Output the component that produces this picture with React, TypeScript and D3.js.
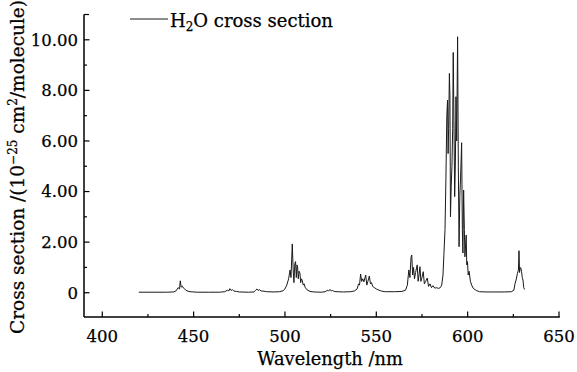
import React from "react";
import * as d3 from "d3";

const wavelength: number[] = [
  420, 425, 430, 435, 439, 440.5, 441.5, 442.3, 442.7, 443.2, 443.8, 444.5, 445.5, 446.5, 448, 452, 458, 464,
  467, 468.5, 469.3, 469.8, 470.5, 471.2, 472, 473.5, 475, 480, 483, 484, 484.7, 485.3, 486, 487, 488.5, 490,
  494, 497, 499, 500, 501, 502, 502.8, 503.3, 504.0, 504.5, 504.9, 505.4, 505.8, 506.2, 506.6, 506.9, 507.3,
  507.7, 508.2, 508.6, 509.0, 509.4, 510, 510.5, 511, 512, 513.7, 516, 520, 522, 523.3, 523.8, 524.6, 525.3,
  526, 527, 528.5, 532, 536, 538, 539.5, 540.3, 540.8, 541.4, 542, 542.6, 543.2, 544.2, 544.8, 545.4, 546.2,
  546.8, 547.4, 548, 549, 550, 551.5, 553, 555, 560, 564, 566, 567, 567.8, 568.4, 569.0, 569.4, 569.9, 570.4,
  570.9, 571.5, 572.4, 572.9, 573.4, 573.9, 574.4, 575.0, 575.7, 576.3, 577, 577.9, 578.6, 579.4, 580.2, 581,
  582, 583, 584, 585, 585.8, 586.5, 587, 587.6, 588.1, 588.6, 589.0, 589.3, 589.6, 590.0, 590.3, 590.6, 591.0,
  591.4, 591.8, 592.1, 592.5, 592.9, 593.3, 593.6, 594.0, 594.5, 594.9, 595.3, 595.7, 596.1, 596.7, 597.1,
  597.4, 597.8, 598.2, 598.5, 599.2, 599.5, 599.9, 600.3, 600.8, 601.5, 602.2, 603, 604, 605, 606.5, 610, 615,
  620, 624, 625.3, 625.9, 626.5, 627.2, 627.8, 628.1, 628.4, 628.8, 629.2, 629.5, 629.9, 630.3, 630.7, 631.1,
];

const crossSection: number[] = [
  0.02, 0.02, 0.02, 0.02, 0.03, 0.08, 0.2, 0.15, 0.47, 0.22, 0.26, 0.18, 0.12, 0.07, 0.04, 0.02, 0.02, 0.02,
  0.04, 0.1, 0.07, 0.16, 0.09, 0.12, 0.07, 0.05, 0.03, 0.02, 0.03, 0.1, 0.15, 0.09, 0.12, 0.07, 0.06, 0.04,
  0.03, 0.04, 0.08, 0.15, 0.3, 0.55, 0.9, 0.6, 1.93, 0.9, 0.4, 1.15, 1.23, 0.6, 1.1, 1.03, 0.55,
  0.85, 0.77, 0.4, 0.55, 0.5, 0.3, 0.35, 0.22, 0.12, 0.05, 0.03, 0.02, 0.04, 0.1, 0.06, 0.13, 0.07,
  0.09, 0.05, 0.04, 0.03, 0.04, 0.07, 0.15, 0.35, 0.3, 0.74, 0.45, 0.55, 0.43, 0.7, 0.3, 0.45, 0.66,
  0.35, 0.4, 0.25, 0.2, 0.15, 0.1, 0.06, 0.04, 0.04, 0.05, 0.1, 0.3, 0.9, 0.6, 1.4, 1.49, 0.7, 1.0,
  0.55, 0.8, 1.1, 0.45, 0.7, 1.03, 0.45, 0.6, 0.83, 0.35, 0.45, 0.58, 0.25, 0.35, 0.2, 0.28,
  0.18, 0.2, 0.17, 0.2, 0.3, 0.7, 1.5, 2.5, 4.5, 7.0, 7.62, 5.5, 6.5, 8.67, 7.8, 3.0, 4.2,
  5.0, 6.5, 9.5, 6.8, 3.8, 5.2, 7.75, 6.0, 10.12, 5.0, 1.82, 3.8, 4.5, 5.93, 2.5,
  1.57, 4.06, 2.5, 1.42, 2.28, 1.1, 1.23, 0.7, 0.85, 0.45, 0.3, 0.18, 0.12, 0.08, 0.04, 0.03, 0.03,
  0.03, 0.04, 0.1, 0.35, 0.5, 0.75, 0.9, 1.66, 0.8, 1.0, 0.96, 0.83, 0.6, 0.5, 0.2, 0.13,
];

const xMajorTicks = [400, 450, 500, 550, 600, 650];
const xMinorTicks = [425, 475, 525, 575, 625];
const yMajorTicks = [0, 2, 4, 6, 8, 10];
const yMinorTicks = [1, 3, 5, 7, 9];
const yTickLabels = ["0", "2.00", "4.00", "6.00", "8.00", "10.00"];

const W = 577;
const H = 372;
const left = 84;
const right = 559;
const top = 14.5;
const bottom = 317;
const font = "'DejaVu Serif', 'Liberation Serif', serif";
const heavy = { stroke: "#000", strokeWidth: 0.25 };

export default function App() {
  const x = d3.scaleLinear().domain([390, 650]).range([left, right]);
  const y = d3.scaleLinear().domain([-0.96, 11]).range([bottom, top]);
  const pts: [number, number][] = wavelength.map((w, i) => [w, crossSection[i]]);
  const line = d3
    .line<[number, number]>()
    .x((d) => x(d[0]))
    .y((d) => y(d[1]));

  return (
    <svg
      width={W}
      height={H}
      viewBox={`0 0 ${W} ${H}`}
      style={{ position: "absolute", left: 0, top: 0, background: "#fff" }}
    >
      <rect x={0} y={0} width={W} height={H} fill="#fff" />
      <path d={line(pts) || ""} fill="none" stroke="#1a1a1a" strokeWidth={1} strokeLinejoin="miter" />
      {/* axes */}
      <line x1={left} y1={top} x2={left} y2={bottom} stroke="#000" strokeWidth={1.5} />
      <line x1={left} y1={bottom} x2={right + 0.75} y2={bottom} stroke="#000" strokeWidth={1.5} />
      <line x1={left} y1={top} x2={left + 5} y2={top} stroke="#000" strokeWidth={1.2} />
      {xMajorTicks.map((t) => (
        <g key={"xm" + t}>
          <line x1={x(t)} x2={x(t)} y1={bottom} y2={bottom - 5.5} stroke="#000" strokeWidth={1.2} />
          <text x={x(t)} y={342} textAnchor="middle" fontFamily={font} fontSize={16.5} fill="#000" {...heavy}>
            {t}
          </text>
        </g>
      ))}
      {xMinorTicks.map((t) => (
        <line key={"xn" + t} x1={x(t)} x2={x(t)} y1={bottom} y2={bottom - 3} stroke="#000" strokeWidth={1.2} />
      ))}
      {yMajorTicks.map((t, i) => (
        <g key={"ym" + t}>
          <line x1={left} x2={left + 5.5} y1={y(t)} y2={y(t)} stroke="#000" strokeWidth={1.2} />
          <text x={78} y={y(t)} dy="0.36em" textAnchor="end" fontFamily={font} fontSize={16.5} fill="#000" {...heavy}>
            {yTickLabels[i]}
          </text>
        </g>
      ))}
      {yMinorTicks.map((t) => (
        <line key={"yn" + t} x1={left} x2={left + 3} y1={y(t)} y2={y(t)} stroke="#000" strokeWidth={1.2} />
      ))}
      {/* axis titles */}
      <text x={330} y={365} textAnchor="middle" fontFamily={font} fontSize={17.8} fill="#000" {...heavy}>
        Wavelength /nm
      </text>
      <text
        transform="translate(24,167) rotate(-90)"
        textAnchor="middle"
        fontFamily={font}
        fontSize={18.5}
        fill="#000"
        {...heavy}
      >
        Cross section /(10
        <tspan fontSize={12} dy={-7}>−25</tspan>
        <tspan dy={7}> cm</tspan>
        <tspan fontSize={12} dy={-7}>2</tspan>
        <tspan dy={7}>/molecule)</tspan>
      </text>
      {/* legend */}
      <line x1={130} x2={168} y1={19} y2={19} stroke="#1a1a1a" strokeWidth={1} />
      <text x={170} y={26.5} fontFamily={font} fontSize={18} fill="#000" {...heavy}>
        H<tspan fontSize={12} dy={4}>2</tspan>
        <tspan dy={-4}>O cross section</tspan>
      </text>
    </svg>
  );
}
